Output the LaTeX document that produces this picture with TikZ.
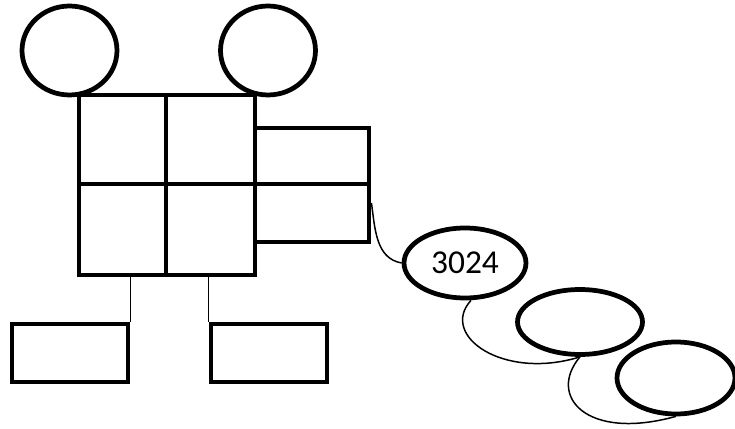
\documentclass[tikz,border=0pt]{standalone}
\usepackage{fontspec}
\setmainfont{Carlito}
\usepackage{tikz}
\usetikzlibrary{shapes.geometric}
\tikzset{
  box/.style={draw, line width=2.8pt, inner sep=0pt},
  ring/.style={draw, ellipse, line width=2.7pt, inner sep=0pt},
  wire/.style={line width=0.85pt}}

\begin{document}
\begin{tikzpicture}[x=0.02cm, y=-0.02cm]
  \useasboundingbox (0,0) rectangle (735,429);
    \node [ring, minimum width=1.9cm, minimum height=1.78cm] (headl) at (69.5,50.5) {};
    \node [ring, minimum width=1.9cm, minimum height=1.78cm] (headr) at (268,50.5) {};
        \node [box, minimum width=1.74cm, minimum height=1.78cm] (ca) at (122.5,139.5) {};
        \node [box, minimum width=1.78cm, minimum height=1.78cm] (cb) at (210.5,139.5) {};
        \node [box, minimum width=1.74cm, minimum height=1.82cm] (cc) at (122.5,229.5) {};
        \node [box, minimum width=1.78cm, minimum height=1.82cm] (cd) at (210.5,229.5) {};
           \node [box, minimum width=2.28cm, minimum height=1.12cm] (arma) at (312,156) {};
           \node [box, minimum width=2.28cm, minimum height=1.16cm] (armb) at (312,213) {};
     \node [box, minimum width=2.32cm, minimum height=1.16cm] (footl) at (70,353) {};
     \node [box, minimum width=2.32cm, minimum height=1.16cm] (footr) at (269,353) {};
  \node [ring, minimum width=2.44cm, minimum height=1.4cm, font=\fontsize{19}{22}\selectfont] (e1) at (465,263) {3024};
  \node [ring, minimum width=2.5cm, minimum height=1.3cm] (e2) at (580,322) {};
  \node [ring, minimum width=2.36cm, minimum height=1.44cm] (e3) at (676,378) {};
    % legs
    \draw [wire] (footl.north east |- cc.south) -- (footl.north east);
    \draw [wire] (footr.north west |- cd.south) -- (footr.north west);
    % chain of ellipses
    \draw [wire] ([yshift=0.2cm]armb.east) to[out=-82, in=170] (e1.west);
    \draw [wire] ([xshift=0.12cm]e1.south) .. controls +(-32,35) and +(-77,24) .. (e2.south);
    \draw [wire] (e2.south) .. controls +(-33,39) and +(-90,25) .. (e3.south);
\end{tikzpicture}
\end{document}
